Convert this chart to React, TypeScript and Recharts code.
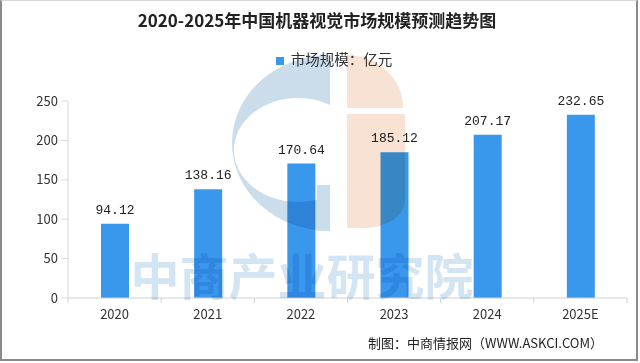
import React from 'react';
import { BarChart, Bar, XAxis, YAxis, Legend, LabelList } from 'recharts';

const years = ['2020', '2021', '2022', '2023', '2024', '2025E'];
const marketSize = [94.12, 138.16, 170.64, 185.12, 207.17, 232.65];
const yTicks = [0, 50, 100, 150, 200, 250];

const data = years.map((year, i) => ({ year, value: marketSize[i] }));

const CJK = '"Noto Sans CJK SC", "Liberation Sans", sans-serif';
const NUM = '"Liberation Mono", "Noto Sans CJK SC", monospace';

// x tick: label at the centre, small tick marks at the category boundaries
const XTick = (props: any) => {
  const { x, y, payload, index, visibleTicksCount } = props;
  const half = payload && payload.offset ? payload.offset : 0;
  const last = index === visibleTicksCount - 1;
  return (
    <g>
      {half > 0 && <line x1={x - half} x2={x - half} y1={y} y2={y + 5} stroke="#d0d0d0" />}
      {half > 0 && last && <line x1={x + half} x2={x + half} y1={y} y2={y + 5} stroke="#d0d0d0" />}
      <text x={x} y={y + 16} dy="0.35em" textAnchor="middle" fill="#333" fontSize={13} fontFamily={CJK}>
        {payload.value}
      </text>
    </g>
  );
};

// faint logo and watermark laid over the chart
const Watermark = () => (
  <svg
    width={640}
    height={363}
    style={{ position: 'absolute', left: 0, top: 0, pointerEvents: 'none', mixBlendMode: 'multiply' }}
  >
    <path d="M330,55 A98,88 0 0 0 330,231 Z" fill="#cbdcea" />
    <ellipse cx={298} cy={150} rx={64} ry={52} fill="#ffffff" />
    <rect x={317} y={185} width={13} height={46} fill="#cbdcea" />
    <path d="M347,55 A58,52 0 0 1 403,108 L347,108 Z" fill="#f8e2d4" />
    <path d="M347,114 L405,114 L405,200 A40,28 0 0 1 365,228 L347,228 Z" fill="#f8e2d4" />
    <text x={302} y={295} textAnchor="middle" fontSize={49} fontWeight={700} fill="#d3e4f3" fontFamily={CJK}>
      中商产业研究院
    </text>
  </svg>
);

const App = () => {
  return (
    <div
      style={{
        position: 'absolute',
        left: 0,
        top: 0,
        width: 640,
        height: 363,
        background: '#fff',
        fontFamily: CJK,
      }}
    >
      <div
        style={{
          position: 'absolute',
          left: 0,
          top: 0,
          width: 638,
          height: 361,
          boxSizing: 'border-box',
          borderLeft: '2px solid #8a8a8a',
          borderRight: '2px solid #8a8a8a',
          borderBottom: '2px solid #8a8a8a',
          borderTop: '1px solid #d8d8d8',
        }}
      />
      <div
        style={{
          position: 'absolute',
          left: 0,
          top: 8,
          width: 634,
          textAlign: 'center',
          fontSize: 17,
          fontWeight: 700,
          color: '#222',
          lineHeight: '24px',
        }}
      >
        2020-2025年中国机器视觉市场规模预测趋势图
      </div>
      <BarChart width={640} height={363} data={data} margin={{ top: 80, right: 13, bottom: 0, left: 0 }}>
        <Legend
          verticalAlign="top"
          align="center"
          iconType="square"
          iconSize={8}
          wrapperStyle={{ top: 48, left: 14, width: 650, fontSize: 14.5, fontFamily: CJK }}
          formatter={(v: string) => <span style={{ color: '#333', marginLeft: 3 }}>{v}</span>}
        />
        <XAxis
          dataKey="year"
          height={65}
          axisLine={{ stroke: '#d0d0d0' }}
          tickLine={false}
          tickSize={0}
          tickMargin={0}
          tick={<XTick />}
          interval={0}
        />
        <YAxis
          width={68}
          domain={[0, 250]}
          ticks={yTicks}
          axisLine={{ stroke: '#d9d9d9' }}
          tickLine={{ stroke: '#d9d9d9' }}
          tickSize={7}
          tickMargin={3}
          tick={{ fill: '#333', fontSize: 13, fontFamily: CJK }}
        />
        <Bar dataKey="value" name="市场规模：亿元" fill="#3997ec" barSize={28} isAnimationActive={false}>
          <LabelList dataKey="value" position="top" offset={10} fill="#222" fontSize={13} fontFamily={NUM} />
        </Bar>
      </BarChart>
      <Watermark />
      <div
        style={{
          position: 'absolute',
          right: 37,
          top: 334,
          fontSize: 13,
          color: '#222',
          lineHeight: '18px',
          whiteSpace: 'nowrap',
        }}
      >
        制图：中商情报网（WWW.ASKCI.COM）
      </div>
    </div>
  );
};

export default App;
